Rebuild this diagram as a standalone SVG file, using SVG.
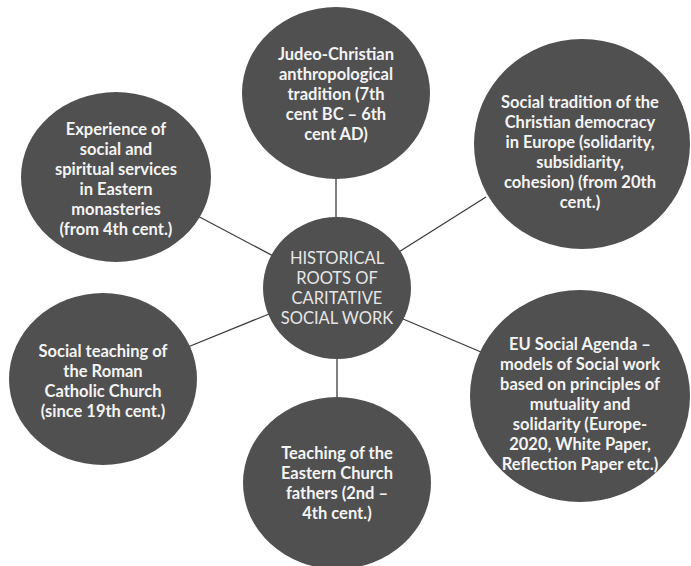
<svg xmlns="http://www.w3.org/2000/svg" width="691" height="566" viewBox="0 0 691 566">
<style>
.c{fill:#505050;}
.t{font-family:Lato,"Open Sans","Liberation Sans",sans-serif;font-weight:bold;font-size:16.5px;fill:#f4f4f4;text-anchor:middle;}
.m{font-family:Lato,"Open Sans","Liberation Sans",sans-serif;font-weight:normal;font-size:16.5px;fill:#e6e6e6;text-anchor:middle;}
.l{stroke:#3c3c3c;stroke-width:1.3;fill:none;}
</style>
<rect width="691" height="566" fill="#ffffff"/>
<g id="connectors">
<line class="l" x1="336" y1="170" x2="336" y2="225"/>
<line class="l" x1="337" y1="350" x2="337" y2="405"/>
<line class="l" x1="192" y1="213" x2="277" y2="258"/>
<line class="l" x1="486" y1="197" x2="394" y2="255"/>
<line class="l" x1="183" y1="349" x2="274" y2="312"/>
<line class="l" x1="481" y1="352" x2="396" y2="316"/>
</g>
<g id="center">
<ellipse class="c" cx="337" cy="288" rx="74" ry="71"/>
<text class="m" x="337" y="264">HISTORICAL</text>
<text class="m" x="337" y="284">ROOTS OF</text>
<text class="m" x="337" y="304">CARITATIVE</text>
<text class="m" x="337" y="324">SOCIAL WORK</text>
</g>
<g id="top">
<ellipse class="c" cx="336" cy="93" rx="94" ry="86"/>
<text class="t" x="336" y="60">Judeo-Christian</text>
<text class="t" x="336" y="80">anthropological</text>
<text class="t" x="336" y="100">tradition (7th</text>
<text class="t" x="336" y="120">cent BC – 6th</text>
<text class="t" x="336" y="140">cent AD)</text>
</g>
<g id="top-right">
<ellipse class="c" cx="582" cy="144" rx="108" ry="105"/>
<text class="t" x="580" y="108">Social tradition of the</text>
<text class="t" x="580" y="128">Christian democracy</text>
<text class="t" x="580" y="148">in Europe (solidarity,</text>
<text class="t" x="580" y="168">subsidiarity,</text>
<text class="t" x="580" y="188">cohesion) (from 20th</text>
<text class="t" x="580" y="208">cent.)</text>
</g>
<g id="top-left">
<ellipse class="c" cx="116" cy="177" rx="95" ry="85"/>
<text class="t" x="116" y="135">Experience of</text>
<text class="t" x="116" y="155">social and</text>
<text class="t" x="116" y="175">spiritual services</text>
<text class="t" x="116" y="195">in Eastern</text>
<text class="t" x="116" y="215">monasteries</text>
<text class="t" x="116" y="235">(from 4th cent.)</text>
</g>
<g id="bottom-left">
<ellipse class="c" cx="103" cy="379" rx="94" ry="86"/>
<text class="t" x="103" y="357">Social teaching of</text>
<text class="t" x="103" y="377">the Roman</text>
<text class="t" x="103" y="397">Catholic Church</text>
<text class="t" x="103" y="417">(since 19th cent.)</text>
</g>
<g id="bottom-right">
<ellipse class="c" cx="580" cy="396" rx="110" ry="106"/>
<text class="t" x="580" y="350">EU Social Agenda –</text>
<text class="t" x="580" y="370">models of Social work</text>
<text class="t" x="580" y="390">based on principles of</text>
<text class="t" x="580" y="410">mutuality and</text>
<text class="t" x="580" y="430">solidarity (Europe-</text>
<text class="t" x="580" y="450">2020, White Paper,</text>
<text class="t" x="580" y="470">Reflection Paper etc.)</text>
</g>
<g id="bottom">
<ellipse class="c" cx="337" cy="483" rx="94" ry="86"/>
<text class="t" x="337" y="459">Teaching of the</text>
<text class="t" x="337" y="479">Eastern Church</text>
<text class="t" x="337" y="499">fathers (2nd –</text>
<text class="t" x="337" y="519">4th cent.)</text>
</g>
</svg>
